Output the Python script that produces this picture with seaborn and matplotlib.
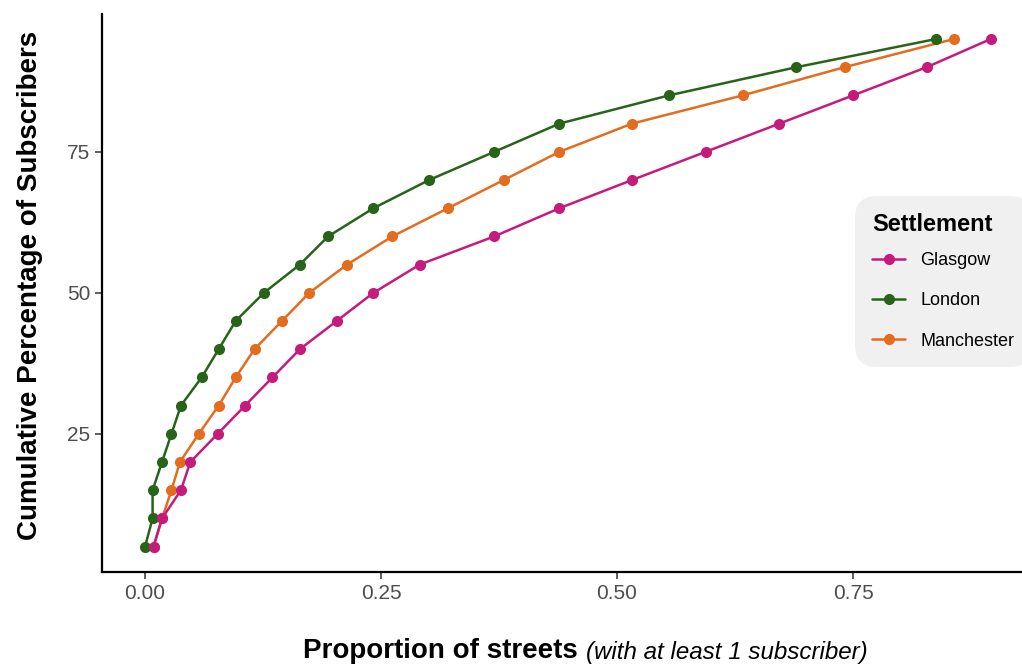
import pandas as pd
import matplotlib.pyplot as plt
import seaborn as sns

# ==========================================
# DATA
# ==========================================
pct_subscribers = [5, 10, 15, 20, 25, 30, 35, 40, 45, 50,
                   55, 60, 65, 70, 75, 80, 85, 90, 95]

glasgow = [0.009, 0.018, 0.038, 0.048, 0.077, 0.106, 0.135, 0.164, 0.203, 0.242,
           0.291, 0.370, 0.439, 0.516, 0.594, 0.672, 0.750, 0.828, 0.896]
london = [0.000, 0.008, 0.008, 0.018, 0.028, 0.038, 0.060, 0.078, 0.096, 0.126,
          0.164, 0.194, 0.242, 0.301, 0.370, 0.439, 0.555, 0.690, 0.838]
manchester = [0.009, 0.018, 0.028, 0.037, 0.057, 0.078, 0.096, 0.116, 0.145, 0.174,
              0.214, 0.262, 0.321, 0.380, 0.439, 0.516, 0.633, 0.741, 0.857]

settlements = ['Glasgow', 'London', 'Manchester']
colours = {'Glasgow': '#C51B7D', 'London': '#276419', 'Manchester': '#E36C1F'}

x_ticks = [0.00, 0.25, 0.50, 0.75]
x_tick_labels = ['0.00', '0.25', '0.50', '0.75']
y_ticks = [25, 50, 75]

# long format table for seaborn
frames = []
for name, values in zip(settlements, [glasgow, london, manchester]):
    frames.append(pd.DataFrame({'prop': values,
                                'pct': pct_subscribers,
                                'Settlement': name}))
df = pd.concat(frames, ignore_index=True)

# ==========================================
# PLOT
# ==========================================
sns.set_theme(style="ticks")
plt.rcParams['font.family'] = ['Liberation Sans', 'DejaVu Sans']
plt.rcParams['text.color'] = 'black'

fig = plt.figure(figsize=(10.22, 6.64), dpi=100)
ax = fig.add_axes([0.0998, 0.1386, 0.9002, 0.8409])

# Manchester first so Glasgow sits on top where points overlap
sns.lineplot(data=df, x='prop', y='pct', hue='Settlement',
             hue_order=['Manchester', 'London', 'Glasgow'],
             palette=colours, marker='o', markersize=8, markeredgewidth=0,
             linewidth=1.8, estimator=None, sort=False, ax=ax, legend=False)

ax.set_xlim(-0.0456, 0.929)
ax.set_ylim(0.5, 99.5)
ax.set_xticks(x_ticks)
ax.set_xticklabels(x_tick_labels)
ax.set_yticks(y_ticks)
ax.set_xlabel('')
ax.set_ylabel('')
ax.tick_params(axis='both', labelsize=15, labelcolor='#4D4D4D',
               color='#333333', length=5, width=1.1)
for side in ['top', 'right']:
    ax.spines[side].set_visible(False)
for side in ['left', 'bottom']:
    ax.spines[side].set_linewidth(1.6)
    ax.spines[side].set_color('black')

# axis titles
fig.text(30 / 1022, 1 - 285 / 664, 'Cumulative Percentage of Subscribers',
         rotation=90, ha='center', va='center', fontsize=20, fontweight='bold')
fig.text(578 / 1022, 1 - 651 / 664, 'Proportion of streets',
         ha='right', va='center', fontsize=20, fontweight='bold')
fig.text(586 / 1022, 1 - 652 / 664, '(with at least 1 subscriber)',
         ha='left', va='center', fontsize=17.4, style='italic')

# legend (Glasgow, London, Manchester order)
handles = [plt.Line2D([], [], color=colours[s], marker='o', markersize=8,
                      markeredgewidth=0, linewidth=1.8) for s in settlements]
leg = ax.legend(handles, settlements, title='Settlement',
                loc='upper left', bbox_to_anchor=(858 / 1022, 1 - 199 / 664),
                bbox_transform=fig.transFigure, fontsize=13,
                title_fontproperties={'weight': 'bold', 'size': 17},
                frameon=True, fancybox=True, facecolor='#F0F0F0',
                edgecolor='none', framealpha=1, handlelength=1.8,
                handletextpad=0.85, labelspacing=1.3, borderpad=0.8,
                borderaxespad=0, alignment='left')
leg.get_frame().set_boxstyle('round', pad=0.15, rounding_size=1.2)
# tighten the gap between title and the first entry
leg._legend_box.sep = 1.3 * 13 - 5.8

plt.savefig('out.png', dpi=100)
plt.close()
